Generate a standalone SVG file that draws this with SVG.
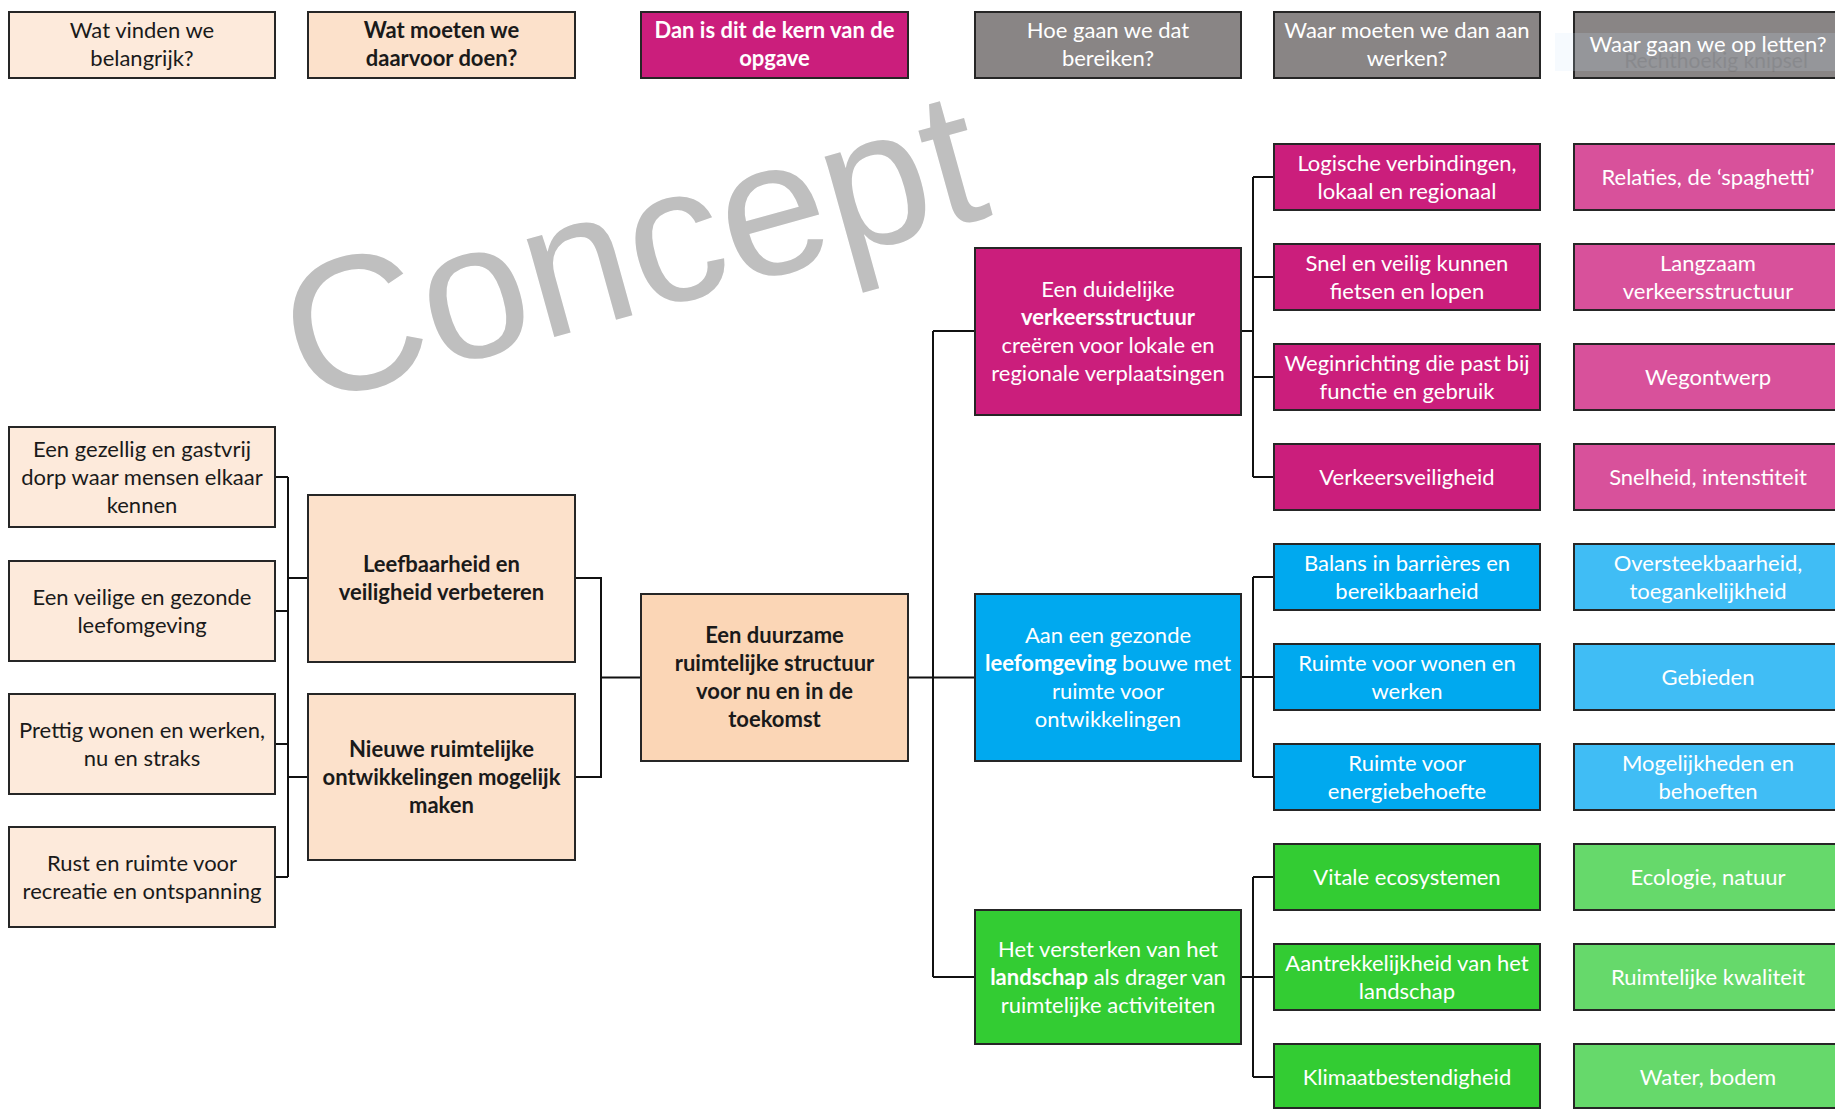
<svg xmlns="http://www.w3.org/2000/svg" width="1835" height="1110" viewBox="0 0 1835 1110">
<style>
rect.b{stroke:#262626;stroke-width:2}
text{font-family:Lato,"Open Sans","Liberation Sans",sans-serif;font-size:22px;text-anchor:middle}
.dk{fill:#1a1a1a}
.wt{fill:#ffffff}
.bd{font-weight:bold}
.c1{fill:#FDEADB}.c2{fill:#FCE1CB}.c3{fill:#FBD6B6}
.mg{fill:#CB1E7C}.mg2{fill:#D8519B}
.bl{fill:#00A9EF}.bl2{fill:#40BDF5}
.gr{fill:#33CC33}.gr2{fill:#66D96B}
.gy{fill:#898585}
#connectors path{fill:none;stroke:#111;stroke-width:2}
.wm{font-family:"Liberation Sans",Arial,sans-serif;font-size:192px;fill:#BFBFBF;text-anchor:start}
</style>

<g id="watermark">
<text class="wm" transform="translate(305,406) rotate(-15.5)">Concept</text>
</g>

<g id="connectors">
<path d="M275 477H288M275 611H288M275 744H288M275 877H288M288 477V877M288 578H308M288 777H308"/>
<path d="M575 578H601V777H575M601 677.5H641"/>
<path d="M908 677.5H975M933 331V977M933 331H975M933 977H975"/>
<path d="M1241 331H1253M1253 177V477M1253 177H1274M1253 277H1274M1253 377H1274M1253 477H1274"/>
<path d="M1241 677H1274M1253 577V777M1253 577H1274M1253 777H1274"/>
<path d="M1241 977H1274M1253 877V1077M1253 877H1274M1253 1077H1274"/>
</g>

<g id="h1"><rect class="b c1" x="9" y="12" width="266" height="66"/><text class="dk" x="142" y="38">Wat vinden we</text><text class="dk" x="142" y="66">belangrijk?</text></g>
<g id="h2"><rect class="b c2" x="308" y="12" width="267" height="66"/><text class="dk bd" x="441.5" y="38">Wat moeten we</text><text class="dk bd" x="441.5" y="66">daarvoor doen?</text></g>
<g id="h3"><rect class="b mg" x="641" y="12" width="267" height="66"/><text class="wt bd" x="774.5" y="38">Dan is dit de kern van de</text><text class="wt bd" x="774.5" y="66">opgave</text></g>
<g id="h4"><rect class="b gy" x="975" y="12" width="266" height="66"/><text class="wt" x="1108" y="38">Hoe gaan we dat</text><text class="wt" x="1108" y="66">bereiken?</text></g>
<g id="h5"><rect class="b gy" x="1274" y="12" width="266" height="66"/><text class="wt" x="1407" y="38">Waar moeten we dan aan</text><text class="wt" x="1407" y="66">werken?</text></g>
<g id="h6"><rect class="b gy" x="1574" y="12" width="268" height="66"/>
<rect x="1555" y="33" width="285" height="38" fill="#CFE4FA" opacity="0.18"/>
<text x="1716" y="68" fill="#333" opacity="0.12" style="font-size:21px">Rechthoekig knipsel</text>
<text class="wt" x="1708" y="52">Waar gaan we op letten?</text></g>

<g id="n1a"><rect class="b c1" x="9" y="427" width="266" height="100"/><text class="dk" x="142" y="457">Een gezellig en gastvrij</text><text class="dk" x="142" y="485">dorp waar mensen elkaar</text><text class="dk" x="142" y="513">kennen</text></g>
<g id="n1b"><rect class="b c1" x="9" y="561" width="266" height="100"/><text class="dk" x="142" y="605">Een veilige en gezonde</text><text class="dk" x="142" y="633">leefomgeving</text></g>
<g id="n1c"><rect class="b c1" x="9" y="694" width="266" height="100"/><text class="dk" x="142" y="738">Prettig wonen en werken,</text><text class="dk" x="142" y="766">nu en straks</text></g>
<g id="n1d"><rect class="b c1" x="9" y="827" width="266" height="100"/><text class="dk" x="142" y="871">Rust en ruimte voor</text><text class="dk" x="142" y="899">recreatie en ontspanning</text></g>

<g id="n2a"><rect class="b c2" x="308" y="495" width="267" height="167"/><text class="dk bd" x="441.5" y="572">Leefbaarheid en</text><text class="dk bd" x="441.5" y="600">veiligheid verbeteren</text></g>
<g id="n2b"><rect class="b c2" x="308" y="694" width="267" height="166"/><text class="dk bd" x="441.5" y="757">Nieuwe ruimtelijke</text><text class="dk bd" x="441.5" y="785">ontwikkelingen mogelijk</text><text class="dk bd" x="441.5" y="813">maken</text></g>

<g id="n3"><rect class="b c3" x="641" y="594" width="267" height="167"/><text class="dk bd" x="774.5" y="643">Een duurzame</text><text class="dk bd" x="774.5" y="671">ruimtelijke structuur</text><text class="dk bd" x="774.5" y="699">voor nu en in de</text><text class="dk bd" x="774.5" y="727">toekomst</text></g>

<g id="n4a"><rect class="b mg" x="975" y="248" width="266" height="167"/><text class="wt" x="1108" y="297">Een duidelijke</text><text class="wt bd" x="1108" y="325">verkeersstructuur</text><text class="wt" x="1108" y="353">creëren voor lokale en</text><text class="wt" x="1108" y="381">regionale verplaatsingen</text></g>
<g id="n4b"><rect class="b bl" x="975" y="594" width="266" height="167"/><text class="wt" x="1108" y="643">Aan een gezonde</text><text class="wt" x="1108" y="671"><tspan class="bd">leefomgeving</tspan> bouwe met</text><text class="wt" x="1108" y="699">ruimte voor</text><text class="wt" x="1108" y="727">ontwikkelingen</text></g>
<g id="n4c"><rect class="b gr" x="975" y="910" width="266" height="134"/><text class="wt" x="1108" y="957">Het versterken van het</text><text class="wt" x="1108" y="985"><tspan class="bd">landschap</tspan> als drager van</text><text class="wt" x="1108" y="1013">ruimtelijke activiteiten</text></g>

<g id="n5a"><rect class="b mg" x="1274" y="144" width="266" height="66"/><text class="wt" x="1407" y="171">Logische verbindingen,</text><text class="wt" x="1407" y="199">lokaal en regionaal</text></g>
<g id="n5b"><rect class="b mg" x="1274" y="244" width="266" height="66"/><text class="wt" x="1407" y="271">Snel en veilig kunnen</text><text class="wt" x="1407" y="299">fietsen en lopen</text></g>
<g id="n5c"><rect class="b mg" x="1274" y="344" width="266" height="66"/><text class="wt" x="1407" y="371">Weginrichting die past bij</text><text class="wt" x="1407" y="399">functie en gebruik</text></g>
<g id="n5d"><rect class="b mg" x="1274" y="444" width="266" height="66"/><text class="wt" x="1407" y="485">Verkeersveiligheid</text></g>
<g id="n5e"><rect class="b bl" x="1274" y="544" width="266" height="66"/><text class="wt" x="1407" y="571">Balans in barrières en</text><text class="wt" x="1407" y="599">bereikbaarheid</text></g>
<g id="n5f"><rect class="b bl" x="1274" y="644" width="266" height="66"/><text class="wt" x="1407" y="671">Ruimte voor wonen en</text><text class="wt" x="1407" y="699">werken</text></g>
<g id="n5g"><rect class="b bl" x="1274" y="744" width="266" height="66"/><text class="wt" x="1407" y="771">Ruimte voor</text><text class="wt" x="1407" y="799">energiebehoefte</text></g>
<g id="n5h"><rect class="b gr" x="1274" y="844" width="266" height="66"/><text class="wt" x="1407" y="885">Vitale ecosystemen</text></g>
<g id="n5i"><rect class="b gr" x="1274" y="944" width="266" height="66"/><text class="wt" x="1407" y="971">Aantrekkelijkheid van het</text><text class="wt" x="1407" y="999">landschap</text></g>
<g id="n5j"><rect class="b gr" x="1274" y="1044" width="266" height="64"/><text class="wt" x="1407" y="1085">Klimaatbestendigheid</text></g>

<g id="n6a"><rect class="b mg2" x="1574" y="144" width="268" height="66"/><text class="wt" x="1708" y="185">Relaties, de ‘spaghetti’</text></g>
<g id="n6b"><rect class="b mg2" x="1574" y="244" width="268" height="66"/><text class="wt" x="1708" y="271">Langzaam</text><text class="wt" x="1708" y="299">verkeersstructuur</text></g>
<g id="n6c"><rect class="b mg2" x="1574" y="344" width="268" height="66"/><text class="wt" x="1708" y="385">Wegontwerp</text></g>
<g id="n6d"><rect class="b mg2" x="1574" y="444" width="268" height="66"/><text class="wt" x="1708" y="485">Snelheid, intenstiteit</text></g>
<g id="n6e"><rect class="b bl2" x="1574" y="544" width="268" height="66"/><text class="wt" x="1708" y="571">Oversteekbaarheid,</text><text class="wt" x="1708" y="599">toegankelijkheid</text></g>
<g id="n6f"><rect class="b bl2" x="1574" y="644" width="268" height="66"/><text class="wt" x="1708" y="685">Gebieden</text></g>
<g id="n6g"><rect class="b bl2" x="1574" y="744" width="268" height="66"/><text class="wt" x="1708" y="771">Mogelijkheden en</text><text class="wt" x="1708" y="799">behoeften</text></g>
<g id="n6h"><rect class="b gr2" x="1574" y="844" width="268" height="66"/><text class="wt" x="1708" y="885">Ecologie, natuur</text></g>
<g id="n6i"><rect class="b gr2" x="1574" y="944" width="268" height="66"/><text class="wt" x="1708" y="985">Ruimtelijke kwaliteit</text></g>
<g id="n6j"><rect class="b gr2" x="1574" y="1044" width="268" height="64"/><text class="wt" x="1708" y="1085">Water, bodem</text></g>
</svg>
